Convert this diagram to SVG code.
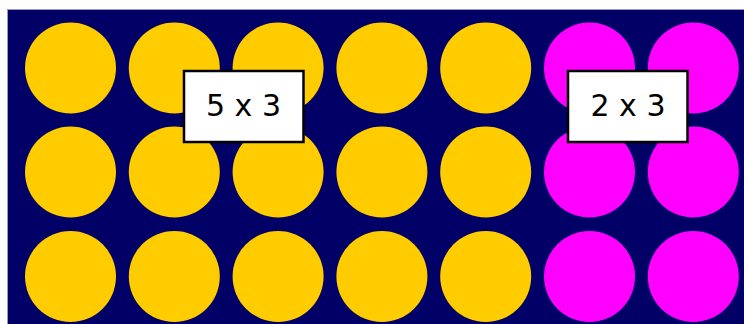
<svg xmlns="http://www.w3.org/2000/svg" width="744" height="324" viewBox="0 0 744 324">
<style>
.y{fill:#FFCC00}
.m{fill:#FF00FF}
.box{fill:#FFFFFF;stroke:#000000;stroke-width:2.5}
.t{font-family:"DejaVu Sans","Liberation Sans",sans-serif;font-size:30px;fill:#000000;text-anchor:middle}
</style>
<rect width="744" height="324" fill="#FFFFFF"/>
<rect x="7.5" y="9.5" width="740" height="320" fill="#000066" stroke="#9a9ab0" stroke-width="1"/>
<g id="circles">
<circle class="y" cx="70.5" cy="68" r="45.5"/>
<circle class="y" cx="174.3" cy="68" r="45.5"/>
<circle class="y" cx="278.1" cy="68" r="45.5"/>
<circle class="y" cx="381.9" cy="68" r="45.5"/>
<circle class="y" cx="485.7" cy="68" r="45.5"/>
<circle class="m" cx="589.5" cy="68" r="45.5"/>
<circle class="m" cx="693.3" cy="68" r="45.5"/>
<circle class="y" cx="70.5" cy="172" r="45.5"/>
<circle class="y" cx="174.3" cy="172" r="45.5"/>
<circle class="y" cx="278.1" cy="172" r="45.5"/>
<circle class="y" cx="381.9" cy="172" r="45.5"/>
<circle class="y" cx="485.7" cy="172" r="45.5"/>
<circle class="m" cx="589.5" cy="172" r="45.5"/>
<circle class="m" cx="693.3" cy="172" r="45.5"/>
<circle class="y" cx="70.5" cy="276.5" r="45.5"/>
<circle class="y" cx="174.3" cy="276.5" r="45.5"/>
<circle class="y" cx="278.1" cy="276.5" r="45.5"/>
<circle class="y" cx="381.9" cy="276.5" r="45.5"/>
<circle class="y" cx="485.7" cy="276.5" r="45.5"/>
<circle class="m" cx="589.5" cy="276.5" r="45.5"/>
<circle class="m" cx="693.3" cy="276.5" r="45.5"/>
</g>
<g id="label5x3">
<rect class="box" x="184" y="71" width="119.5" height="71"/>
<text class="t" x="243.5" y="116">5 x 3</text>
</g>
<g id="label2x3">
<rect class="box" x="568" y="71" width="119.5" height="71"/>
<text class="t" x="628" y="116">2 x 3</text>
</g>
<g id="connectors"/>
</svg>
